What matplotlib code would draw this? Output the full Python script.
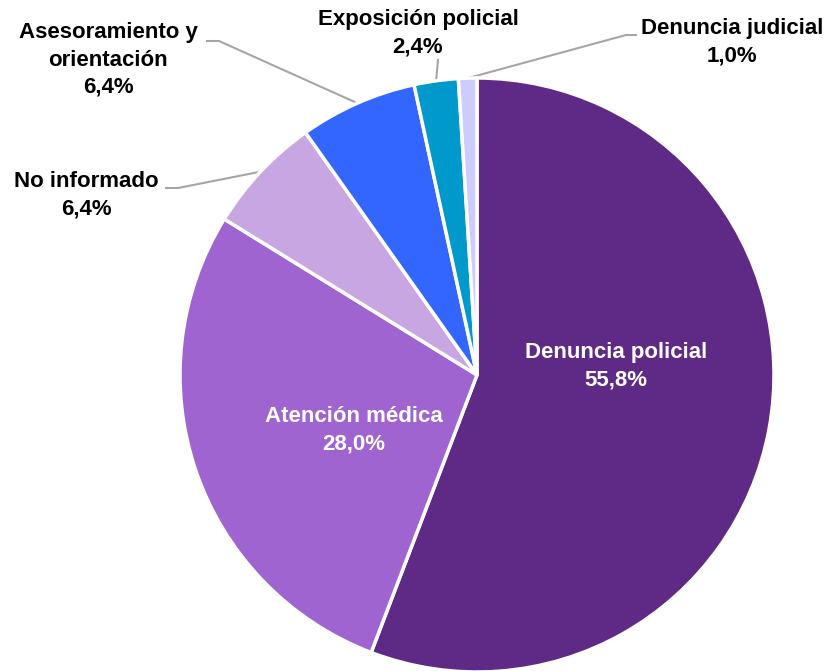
import matplotlib.pyplot as plt
import numpy as np

# Data
labels = ["Denuncia policial", "Atención médica", "No informado",
          "Asesoramiento y\norientación", "Exposición policial", "Denuncia judicial"]
values = [55.8, 28.0, 6.4, 6.4, 2.4, 1.0]
colors = ["#5F2A86", "#A064D0", "#C8A6E2", "#3366FF", "#0099CC", "#CCCCFF"]

W, H = 837, 671
cx, cy, R = 477, 375, 297  # pie centre / radius in pixels


def px(x, y):
    # pixel coords (from top-left) -> data coords (pie radius = 1)
    return (x - cx) / R, (cy - y) / R


plt.rcParams['font.family'] = ['Liberation Sans', 'DejaVu Sans']

fig = plt.figure(figsize=(W / 100, H / 100), dpi=100)
ax = fig.add_axes([0, 0, 1, 1])

wedges, _ = ax.pie(values, colors=colors, startangle=90, counterclock=False,
                   radius=1, wedgeprops=dict(edgecolor='white', linewidth=2.5))

ax.set_xlim(-cx / R, (W - cx) / R)
ax.set_ylim(-(H - cy) / R, cy / R)
ax.set_aspect('equal')
ax.axis('off')

# label text positions (pixels) and leader-line elbow points
label_pos = [(616, 366), (354, 430), (86, 195), (108, 60), (418, 33), (732, 42)]
elbows = [None, None, [(166, 188), (178, 188)], [(207, 41), (219, 41)],
          [(438, 60)], [(626, 35), (636, 35)]]
inside = [True, True, False, False, False, False]

for w, lab, v, pos, elb, ins in zip(wedges, labels, values, label_pos, elbows, inside):
    txt = f"{lab}\n{v:.1f}%".replace('.', ',')
    x, y = px(*pos)
    ax.text(x, y, txt, ha='center', va='center', fontsize=16, fontweight='bold',
            color='white' if ins else 'black', linespacing=1.4)
    if elb is not None:
        ang = np.deg2rad((w.theta1 + w.theta2) / 2)
        pts = [px(*p) for p in elb]
        if pts[0][0] > np.cos(ang):
            pts = pts[::-1]
        xs = [p[0] for p in pts] + [np.cos(ang)]
        ys = [p[1] for p in pts] + [np.sin(ang)]
        ax.plot(xs, ys, color='#A6A6A6', lw=1.5, zorder=0)

fig.savefig("out.png", dpi=100)
